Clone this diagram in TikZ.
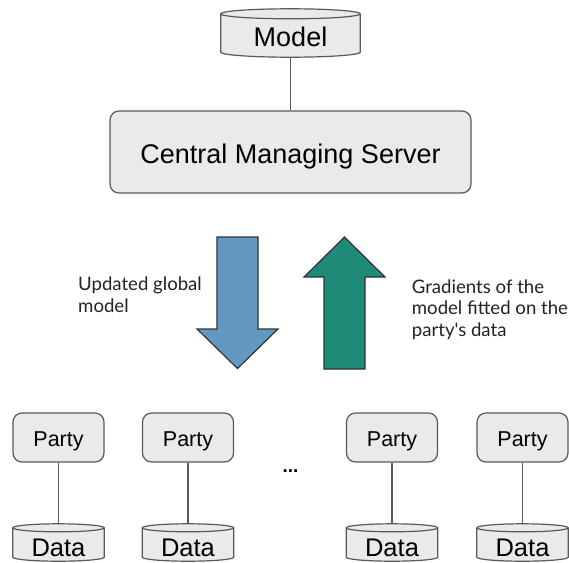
\documentclass[tikz,border=0pt]{standalone}
\usepackage{fontspec}
\setmainfont{Liberation Sans}
\newfontfamily\latofont{Lato}
\usetikzlibrary{calc,backgrounds}

\definecolor{boxfill}{HTML}{E8EAEC}
\definecolor{boxline}{HTML}{595959}
\definecolor{downblue}{HTML}{6399C0}
\definecolor{upgreen}{HTML}{1E8A78}
\definecolor{inktext}{HTML}{222222}

\tikzset{
  roundbox/.style={draw=boxline, fill=boxfill, line width=1.2pt, rounded corners=9pt, inner sep=0pt},
  drumbox/.style={inner sep=0pt},
  partybox/.style={roundbox, minimum width=91pt, minimum height=49pt, text height=18.4pt, text depth=0pt,
    font=\fontsize{21.5}{25}\selectfont},
  datadrum/.style={drumbox, minimum width=91pt, minimum height=37pt, text height=27pt, text depth=0pt,
    font=\fontsize{25.5}{30}\selectfont},
  link/.style={draw=boxline, line width=1.1pt},
  bigarrow/.style={draw=black!80, line width=1.2pt, line join=miter},
  note/.style={font=\latofont\fontsize{18.6}{21.5}\selectfont, text=inktext, align=left, inner sep=0pt, anchor=base west},
}

% drum (cylinder) outline filling the bounding box of a node; #2 = ellipse y radius in pt
\newcommand\drawdrum[2]{%
  \path[draw=boxline, fill=boxfill, line width=1.2pt]
    let \p1=(#1.north west), \p2=(#1.south east), \n1={(\x2-\x1)/2}, \n2={#2pt} in
    (\x1,\y1-\n2) -- (\x1,\y2+\n2)
      arc[start angle=180, end angle=360, x radius=\n1, y radius=\n2]
      -- (\x2,\y1-\n2)
      arc[start angle=0, end angle=180, x radius=\n1, y radius=\n2] -- cycle
    (\x1,\y1-\n2) arc[start angle=180, end angle=360, x radius=\n1, y radius=\n2];
}

\begin{document}
\begin{tikzpicture}[x=1pt,y=1pt]
\useasboundingbox (0,0) rectangle (569,-562);

% model store and server
\node[drumbox, minimum width=139pt, minimum height=48pt, text height=26pt, text depth=0pt,
      font=\fontsize{27}{32}\selectfont] (model) at (290.5,-33) {Model};
\node[roundbox, minimum width=361pt, minimum height=82pt, text height=22pt, text depth=0pt,
      font=\fontsize{27}{32}\selectfont] (server) at (290.5,-152) {Central Managing Server};

% parties and their data
\foreach \i/\x in {1/58.5, 2/188, 3/392, 4/522.5}{
  \node[partybox] (party\i) at (\x,-437.5) {Party};
  \node[datadrum] (data\i) at (\x,-542.5) {Data};
}
\node[inner sep=0pt, text height=4pt, text depth=0pt, font=\fontsize{19}{22}\selectfont\bfseries] (dots) at (290.5,-470) {...};

% drum outlines behind their labels
\begin{scope}[on background layer]
  \drawdrum{model}{5}
  \foreach \i in {1,...,4}{ \drawdrum{data\i}{4} }
\end{scope}

% connectors
\draw[link] (model.south) -- (server.north);
\foreach \i in {1,...,4}{ \draw[link] (party\i.south) -- (data\i.north); }

% exchange arrows
\path[bigarrow, fill=downblue]
  (217,-237) -- (258,-237) -- (258,-329) -- (278,-329) -- (237.5,-368.5)
  -- (197,-329) -- (217,-329) -- cycle;
\path[bigarrow, fill=upgreen]
  (344.5,-237) -- (385,-277) -- (365,-277) -- (365,-369) -- (324,-369)
  -- (324,-277) -- (304,-277) -- cycle;

% arrow captions (anchored at the baseline of their last line)
\node[note] (downnote) at (78,-312) {Updated global\\model};
\node[note] (upnote) at (411.7,-336) {Gradients of the\\model fitted on the\\party's data};
\end{tikzpicture}
\end{document}
